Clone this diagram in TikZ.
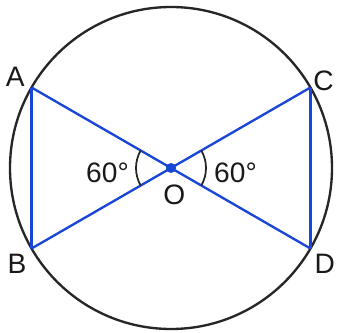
\documentclass[tikz,border=0pt]{standalone}
\usepackage{fontspec}
\setmainfont{Liberation Sans}
\usepackage{xcolor}
\usepackage{tikz}
\usetikzlibrary{positioning}

\definecolor{chordblue}{RGB}{25,70,215}

\begin{document}
\begin{tikzpicture}[
    circ/.style={draw=black!85, line width=2pt},
    chord/.style={draw=chordblue, line width=2pt},
    anglearc/.style={draw=black!85, line width=1.5pt},
    ptlabel/.style={inner sep=0pt, font=\fontsize{24}{27}\selectfont, text=black!90},
    dot/.style={circle, fill=chordblue, inner sep=0pt, minimum size=0.3cm}
]

%% --- FRAME ---
\useasboundingbox (-5.13,-4.92) rectangle (5.10,5.04);

%% --- CENTRE AND POINTS ON THE CIRCLE ---
\coordinate (O) at (0,0);
\coordinate (A) at (150:4.83);
\coordinate (B) at (210:4.83);
\coordinate (C) at (30:4.83);
\coordinate (D) at (-30:4.83);

%% --- CIRCLE ---
\draw[circ] (O) circle[radius=4.83];

%% --- CHORDS AND RADII ---
\draw[chord] (A) -- (B);
\draw[chord] (C) -- (D);
\draw[chord] (A) -- (D);
\draw[chord] (C) -- (B);

%% --- ANGLE MARKS ---
\draw[anglearc] (O) ++(150:1.05) arc[start angle=150, end angle=210, radius=1.05];
\draw[anglearc] (O) ++(-30:1.05) arc[start angle=-30, end angle=30, radius=1.05];

\node[dot] (Odot) at (O) {};

%% --- LABELS ---
\node[ptlabel, above left=0.03cm and 0.2cm of A]    (lA) {A};
\node[ptlabel, below left=0.15cm and 0.15cm of B]   (lB) {B};
\node[ptlabel, above right=-0.12cm and 0.08cm of C] (lC) {C};
\node[ptlabel, below right=0.15cm and 0.12cm of D]  (lD) {D};
\node[ptlabel, below=0.5cm of O, xshift=0.1cm]      (lO) {O};
\node[ptlabel, left=1.26cm of O, yshift=-0.15cm]    (angL) {60°};
\node[ptlabel, right=1.29cm of O, yshift=-0.15cm]   (angR) {60°};

\end{tikzpicture}
\end{document}
